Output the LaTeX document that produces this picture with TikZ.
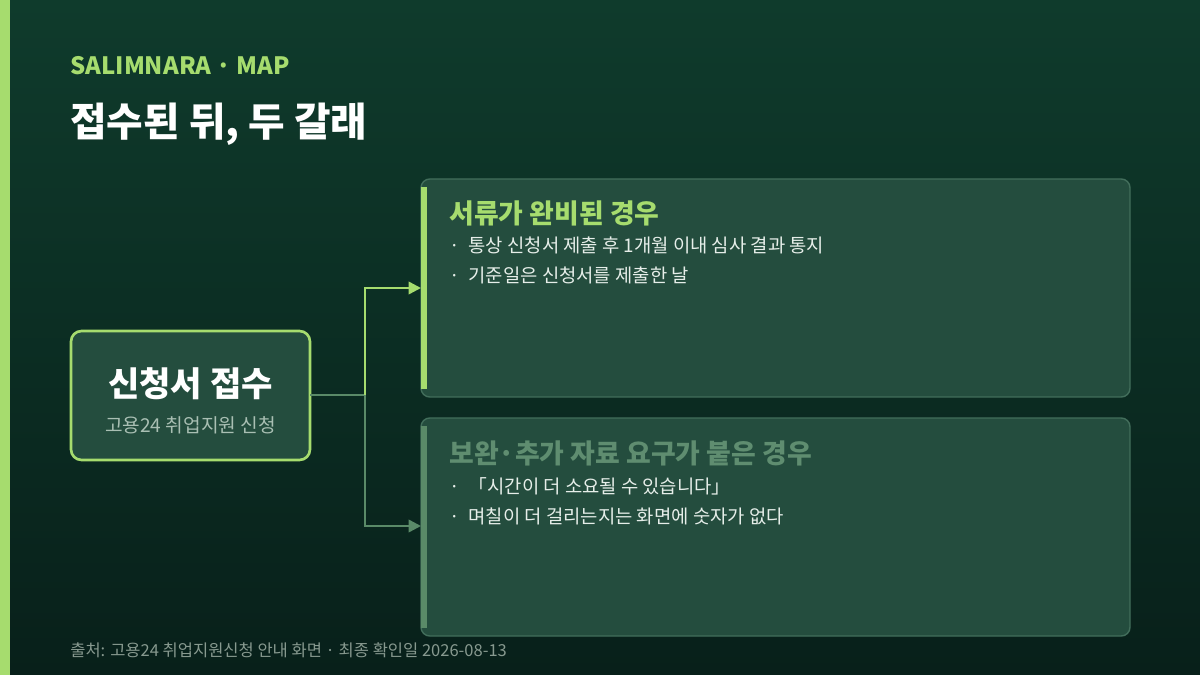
\documentclass[tikz,border=0pt]{standalone}
\usepackage{fontspec}
\setmainfont{Noto Sans CJK KR}
\usetikzlibrary{arrows.meta,positioning}
\definecolor{bgtop}{HTML}{0F3B2C}
\definecolor{bgbot}{HTML}{08201A}
\definecolor{lime}{HTML}{A6DC6E}
\definecolor{cardfill}{HTML}{244D3E}
\definecolor{cardline}{HTML}{426E5B}
\definecolor{muted}{HTML}{5A8A68}
\definecolor{mutedtxt}{HTML}{5F8D70}
\definecolor{subtxt}{HTML}{A9BFB3}
\definecolor{bodytxt}{HTML}{E6EEE9}

\begin{document}
\begin{tikzpicture}[x=0.02cm, y=-0.02cm,
    card/.style={fill=cardfill, draw=cardline, line width=0.8pt, rounded corners=5pt},
    txt/.style={anchor=base west, inner sep=0pt},
    bullet/.style={txt, text=bodytxt, font=\fontsize{10.7}{12}\selectfont},
    branch/.style={line width=1.4pt, -{Triangle[length=7pt,width=7pt]}}]
        \fill[top color=bgtop, bottom color=bgbot] (0,0) rectangle (1200,675);
        \useasboundingbox (0,0) rectangle (1200,675);
        \fill[lime] (0,0) rectangle (10,675);
        % heading
        \node[txt, text=lime, font=\bfseries\fontsize{13.6}{15}\selectfont] (kicker) at (70,75) {SALIMNARA · MAP};
        \node[txt, text=white, font=\bfseries\fontsize{22.6}{26}\selectfont] (title) at (70,137) {접수된 뒤, 두 갈래};
        % start box
        \draw[fill=cardfill, draw=lime, line width=1.5pt, rounded corners=6pt] (71,331) rectangle (310,460);
        \node[text=white, font=\bfseries\fontsize{19.4}{22}\selectfont] (start) at (190.5,384) {신청서 접수};
        \node[text=subtxt, font=\fontsize{10.9}{12}\selectfont] (startsub) at (190.5,425) {고용24 취업지원 신청};
        \coordinate (out) at (310,395);
        \coordinate (fork) at (365,395);
        % cards
        \draw[card] (421,179) rectangle (1130,397);
        \fill[lime] (421,187) rectangle (427,389);
        \draw[card] (421,418) rectangle (1130,636);
        \fill[muted] (421,426) rectangle (427,628);
        \coordinate (okin) at (421,288);
        \coordinate (morein) at (421,526);
        % connectors
        \draw[muted, line width=1.4pt] (out) -- (fork);
        \draw[branch, lime] (fork) |- (okin);
        \draw[branch, muted] (fork) |- (morein);
        % card texts
        \node[txt, text=lime, font=\bfseries\fontsize{15.3}{17}\selectfont] (oktitle) at (449,224) {서류가 완비된 경우};
        \node[bullet] (ok1) at (449,253) {·\hspace{5pt}통상 신청서 제출 후 1개월 이내 심사 결과 통지};
        \node[bullet] (ok2) at (449,283) {·\hspace{5pt}기준일은 신청서를 제출한 날};
        \node[txt, text=mutedtxt, font=\bfseries\fontsize{15.3}{17}\selectfont] (moretitle) at (449,463) {보완·추가 자료 요구가 붙은 경우};
        \node[bullet] (more1) at (449,493) {·\hspace{5pt}「시간이 더 소요될 수 있습니다」};
        \node[bullet] (more2) at (449,523) {·\hspace{5pt}며칠이 더 걸리는지는 화면에 숫자가 없다};
        % footer
        \node[txt, text=subtxt!80!black, font=\fontsize{9.4}{11}\selectfont] (source) at (70,656) {출처: 고용24 취업지원신청 안내 화면 · 최종 확인일 2026-08-13};
\end{tikzpicture}
\end{document}
